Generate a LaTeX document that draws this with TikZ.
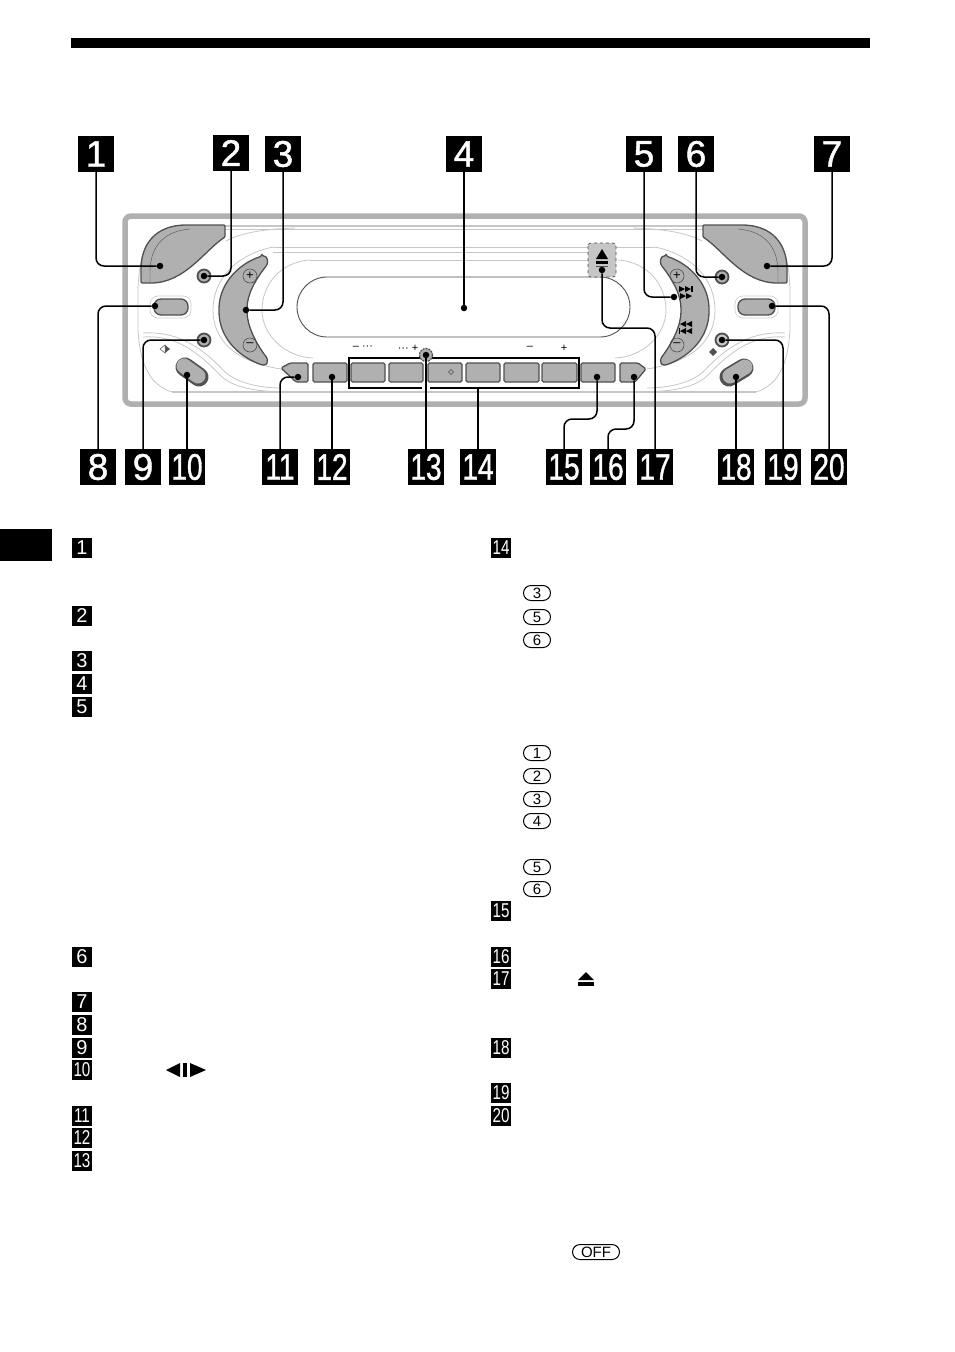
\documentclass[tikz,border=0pt]{standalone}
\usepackage{fontspec}
\setmainfont{Liberation Sans}
\newfontfamily\tagfont[FakeBold=1.2]{Liberation Sans}

\definecolor{keygray}{HTML}{B0B0B0}
\definecolor{keyedge}{HTML}{505050}
\definecolor{trimgray}{HTML}{C6C6C6}

\newcommand{\narrow}[1]{\scalebox{0.76}[1]{#1}}

\tikzset{
  tag_big/.style={fill=black, text=white, inner sep=0pt, minimum size=36pt, font=\fontsize{37}{37}\tagfont},
  tag_small/.style={fill=black, text=white, inner sep=0pt, minimum size=20pt, font=\fontsize{20}{20}\selectfont},
  spot/.style={circle, fill=black, inner sep=0pt, minimum size=6.5pt},
  lead/.style={draw=black, line width=1.5pt, rounded corners=8pt},
  key/.style={draw=keyedge, fill=keygray, line width=1.3pt, rounded corners=1.5pt},
  knob/.style={circle, draw=keyedge, fill=keygray, line width=1.8pt, inner sep=0pt, minimum size=13pt},
  pill/.style={draw=keygray!60, fill=white, line width=0.7pt, rounded corners=8pt},
  trim/.style={draw=trimgray, line width=0.8pt},
  sign/.style={circle, draw=keyedge, line width=0.6pt, inner sep=0pt, minimum size=14pt, font=\fontsize{13}{13}\selectfont},
  keycap/.style={inner sep=0pt, font=\fontsize{11}{11}\selectfont},
  digit/.style={draw=black, line width=1pt, rounded corners=7.5pt, inner sep=0pt, minimum width=27pt, minimum height=15pt, font=\fontsize{15}{15}\selectfont}
}

% one half of the face, used twice
\newcommand{\facehalf}{
  \draw[trim] (185,226) .. controls (150,228) and (139,250) .. (138,290) -- (138,330) .. controls (140,365) and (150,385) .. (172,392);
  \draw[trim] (143,333) .. controls (175,331) and (200,345) .. (225,372) .. controls (240,385) and (265,388) .. (281,388);
  \draw[trim] (143,337) .. controls (175,335) and (196,350) .. (221,376) .. controls (236,390) and (265,392) .. (290,392);
  \draw[trim] (226,241) .. controls (245,231) and (270,229) .. (295,228);
  \draw[trim] (273,247) .. controls (235,255) and (213,280) .. (213,310) .. controls (213,340) and (235,362) .. (281,369);
  \draw[trim] (310,260) .. controls (280,262) and (262,285) .. (262,310) .. controls (262,335) and (285,357) .. (313,358);
  % corner key
  \filldraw[key, rounded corners=1pt] (225,225) -- (225,237) .. controls (205,250) and (185,283) .. (150,283) -- (141,283) -- (141,270) .. controls (141,245) and (155,225) .. (187,225) -- cycle;
  \draw[draw=keyedge, line width=0.4pt] (150,282) -- (150,270) .. controls (151,245) and (165,231) .. (190,229);
  % rocker key
  \filldraw[key] (262,256) .. controls (267,256) and (268,260) .. (267,265) .. controls (255,280) and (247,295) .. (247,310) .. controls (247,325) and (255,342) .. (267,358) .. controls (268,362) and (267,365) .. (262,365) .. controls (235,355) and (219,335) .. (219,310) .. controls (219,287) and (235,265) .. (262,256) -- cycle;
}

\begin{document}
\begin{tikzpicture}[x=1pt, y=-1pt]
\useasboundingbox (0,0) rectangle (954,1352);

% --- Page marks ---
\fill[black] (71,38) rectangle (870,48);
\fill[black] (0,529) rectangle (52,561);

% --- Face plate ---
\draw[draw=keygray, line width=5.5pt, rounded corners=6pt] (125,216) rectangle (805,404);
\draw[trim, line width=1.6pt] (190,226) -- (738,226);
\draw[trim] (190,229.5) -- (738,229.5);
\draw[trim] (273,247) -- (655,247);
\draw[trim] (273,252) -- (588,252);
\draw[trim] (310,260) -- (588,260);
\draw[trim, line width=1.6pt] (172,392) -- (756,392);
\facehalf
\begin{scope}[xshift=928, xscale=-1]
\facehalf
\end{scope}

% --- Display ---
\draw[draw=keyedge, line width=0.9pt, rounded corners=30pt] (297,277) rectangle (630,337);

% --- Buttons ---
\filldraw[pill] (150,296) rectangle (191,318);
\filldraw[pill] (735,296) rectangle (778,318);
\filldraw[key, rounded corners=7pt] (154,299) rectangle (188,315);
\filldraw[key, rounded corners=7pt] (738,299) rectangle (775,315);
\node (knob_2) [knob] at (204,276) {};
\node (knob_9) [knob] at (204,340) {};
\node (knob_6) [knob] at (722,277) {};
\node (knob_19) [knob, fill=keygray!70] at (722,340) {};
\draw[keyedge, line width=19pt, line cap=round] (185,367) -- (199,377);
\draw[keygray, line width=15pt, line cap=round] (184,366) -- (198,376);
\draw[keyedge, line width=19pt, line cap=round] (744,368) -- (729,377);
\draw[keygray, line width=15pt, line cap=round] (745,367) -- (730,376);
\filldraw[key] (281,368) -- (290,363) -- (308,363) -- (308,382) -- (296,382) -- cycle;
\filldraw[key] (313,363) rectangle (347,382);
\filldraw[key] (351,363) rectangle (385,382);
\filldraw[key] (389,363) rectangle (423,382);
\filldraw[key] (428,363) rectangle (462,382);
\filldraw[key] (466,363) rectangle (500,382);
\filldraw[key] (504,363) rectangle (539,382);
\filldraw[key] (542,363) rectangle (577,382);
\filldraw[key] (581,363) rectangle (615,382);
\filldraw[key] (620,363) -- (638,363) -- (646,369) -- (635,382) -- (620,382) -- cycle;
\draw[keyedge, line width=0.5pt] (451,369.5) -- (453.5,372) -- (451,374.5) -- (448.5,372) -- cycle;

% --- Rocker signs ---
\node (plus_left) [sign] at (250,276) {+};
\node (minus_left) [sign] at (250,345) {–};
\node (plus_right) [sign] at (677,276) {+};
\node (minus_right) [sign] at (677,345) {–};
\fill (679,286) -- (685,289) -- (679,292) -- cycle;
\fill (685,286) -- (691,289) -- (685,292) -- cycle;
\fill (691,286) rectangle (692.5,292);
\fill (680,293) -- (686,296) -- (680,299) -- cycle;
\fill (686,293) -- (692,296) -- (686,299) -- cycle;
\fill (692,321) -- (686,324) -- (692,327) -- cycle;
\fill (686,321) -- (680,324) -- (686,327) -- cycle;
\fill (692,328) -- (686,331) -- (692,334) -- cycle;
\fill (686,328) -- (680,331) -- (686,334) -- cycle;
\fill (678.5,328) rectangle (680,334);

% --- Small marks on the face ---
\node (cap_a) [keycap] at (363,348) {– ···};
\node (cap_b) [keycap] at (408,348) {··· +};
\node (cap_c) [keycap] at (530,348) {–};
\node (cap_d) [keycap] at (564,348) {+};
\fill[keyedge] (165,345) -- (170,349) -- (165,353) -- cycle;
\draw[keyedge, line width=0.5pt, fill=white] (165,345) -- (160,349) -- (165,353) -- cycle;
\fill[keyedge] (713,348) -- (717,352) -- (713,356) -- (709,352) -- cycle;

% --- Eject key ---
\filldraw[draw=keyedge, fill=trimgray, dashed, line width=0.7pt, rounded corners=3pt] (588,243) rectangle (616,277);
\fill (602,249) -- (608,259) -- (596,259) -- cycle;
\fill (596,261) rectangle (608,263.5);
\draw[keyedge, line width=0.7pt] (596,266) -- (608,266);

% --- Key group bracket and dimmer ---
\draw[draw=black, line width=1.4pt] (422,388) -| (349,358) -| (579,388) -- (430,388);
\coordinate (brace_14) at (478,388);
\filldraw[draw=keyedge, fill=keygray, dash pattern=on 2pt off 1pt, line width=1.2pt] (426,355) circle (6.5);

% --- Callouts on top ---
\node (tag_1) [tag_big] at (96,154) {1};
\node (tag_2) [tag_big] at (231,153) {2};
\node (tag_3) [tag_big] at (283,154) {3};
\node (tag_4) [tag_big] at (464,154) {4};
\node (tag_5) [tag_big] at (644,154) {5};
\node (tag_6) [tag_big] at (696,154) {6};
\node (tag_7) [tag_big] at (832,154) {7};

% --- Callouts below ---
\node (tag_8) [tag_big] at (98,467) {8};
\node (tag_9) [tag_big] at (143,467) {9};
\node (tag_10) [tag_big] at (187,467) {\narrow{10}};
\node (tag_11) [tag_big] at (280,467) {\narrow{11}};
\node (tag_12) [tag_big] at (332,467) {\narrow{12}};
\node (tag_13) [tag_big] at (426,467) {\narrow{13}};
\node (tag_14) [tag_big] at (478,467) {\narrow{14}};
\node (tag_15) [tag_big] at (564,467) {\narrow{15}};
\node (tag_16) [tag_big] at (608,467) {\narrow{16}};
\node (tag_17) [tag_big] at (655,467) {\narrow{17}};
\node (tag_18) [tag_big] at (736,467) {\narrow{18}};
\node (tag_19) [tag_big] at (783,467) {\narrow{19}};
\node (tag_20) [tag_big] at (829,467) {\narrow{20}};

% --- Spots on the face ---
\node (spot_1) [spot] at (160,266) {};
\node (spot_2) [spot] at (204,276) {};
\node (spot_3) [spot] at (246,310) {};
\node (spot_4) [spot] at (464,308) {};
\node (spot_5) [spot] at (674,297) {};
\node (spot_6) [spot] at (722,277) {};
\node (spot_7) [spot] at (767,266) {};
\node (spot_8) [spot] at (155,306) {};
\node (spot_9) [spot] at (204,340) {};
\node (spot_10) [spot] at (187,375) {};
\node (spot_11) [spot] at (298,377) {};
\node (spot_12) [spot] at (332,377) {};
\node (spot_13) [spot] at (426,355) {};
\node (spot_15) [spot] at (597,377) {};
\node (spot_16) [spot] at (634,377) {};
\node (spot_17) [spot] at (602,270) {};
\node (spot_18) [spot] at (736,377) {};
\node (spot_19) [spot] at (722,340) {};
\node (spot_20) [spot] at (772,306) {};

% --- Leads ---
\draw[lead] (tag_1.south) |- (spot_1);
\draw[lead] (tag_2.south) |- (spot_2);
\draw[lead] (tag_3.south) |- (spot_3);
\draw[lead] (tag_4.south) -- (spot_4);
\draw[lead] (tag_5.south) |- (spot_5);
\draw[lead] (tag_6.south) |- (spot_6);
\draw[lead] (tag_7.south) |- (spot_7);
\draw[lead] (tag_8.north) |- (spot_8);
\draw[lead] (tag_9.north) |- (spot_9);
\draw[lead] (tag_10.north) -- (spot_10);
\draw[lead] (tag_11.north) |- (spot_11);
\draw[lead] (tag_12.north) -- (spot_12);
\draw[lead] (tag_13.north) -- (spot_13);
\draw[lead] (tag_14.north) -- (brace_14);
\draw[lead] (spot_15) -- ++(0,42) -| (tag_15.north);
\draw[lead] (spot_16) -- ++(0,52) -| (tag_16.north);
\draw[lead] (spot_17) -- ++(0,58) -| (tag_17.north);
\draw[lead] (tag_18.north) -- (spot_18);
\draw[lead] (tag_19.north) |- (spot_19);
\draw[lead] (tag_20.north) |- (spot_20);

% --- Legend, left column ---
\node (item_1) [tag_small] at (82,548) {1};
\node (item_2) [tag_small] at (82,616) {2};
\node (item_3) [tag_small] at (82,661) {3};
\node (item_4) [tag_small] at (82,684) {4};
\node (item_5) [tag_small] at (82,707) {5};
\node (item_6) [tag_small] at (82,957) {6};
\node (item_7) [tag_small] at (82,1002) {7};
\node (item_8) [tag_small] at (82,1025) {8};
\node (item_9) [tag_small] at (82,1048) {9};
\node (item_10) [tag_small] at (82,1070) {\narrow{10}};
\node (item_11) [tag_small] at (82,1116) {\narrow{11}};
\node (item_12) [tag_small] at (82,1138) {\narrow{12}};
\node (item_13) [tag_small] at (82,1161) {\narrow{13}};
\fill (166,1070) -- (180,1063) -- (180,1077) -- cycle;
\fill (183,1063) rectangle (187,1077);
\fill (190,1063) -- (206,1070) -- (190,1077) -- cycle;

% --- Legend, right column ---
\node (item_14) [tag_small] at (501,548) {\narrow{14}};
\node (item_15) [tag_small] at (501,911) {\narrow{15}};
\node (item_16) [tag_small] at (501,957) {\narrow{16}};
\node (item_17) [tag_small] at (501,979) {\narrow{17}};
\node (item_18) [tag_small] at (501,1048) {\narrow{18}};
\node (item_19) [tag_small] at (501,1093) {\narrow{19}};
\node (item_20) [tag_small] at (501,1116) {\narrow{20}};
\fill (586,972) -- (594,980) -- (578,980) -- cycle;
\fill (578,982) rectangle (594,986);

% --- Number keys ---
\node (digit_a) [digit] at (537,593) {3};
\node (digit_b) [digit] at (537,617) {5};
\node (digit_c) [digit] at (537,640) {6};
\node (digit_d) [digit] at (537,753) {1};
\node (digit_e) [digit] at (537,776) {2};
\node (digit_f) [digit] at (537,799) {3};
\node (digit_g) [digit] at (537,821) {4};
\node (digit_h) [digit] at (537,867) {5};
\node (digit_i) [digit] at (537,889) {6};
\node (digit_off) [digit, minimum width=47pt] at (596,1252) {OFF};

\end{tikzpicture}
\end{document}
